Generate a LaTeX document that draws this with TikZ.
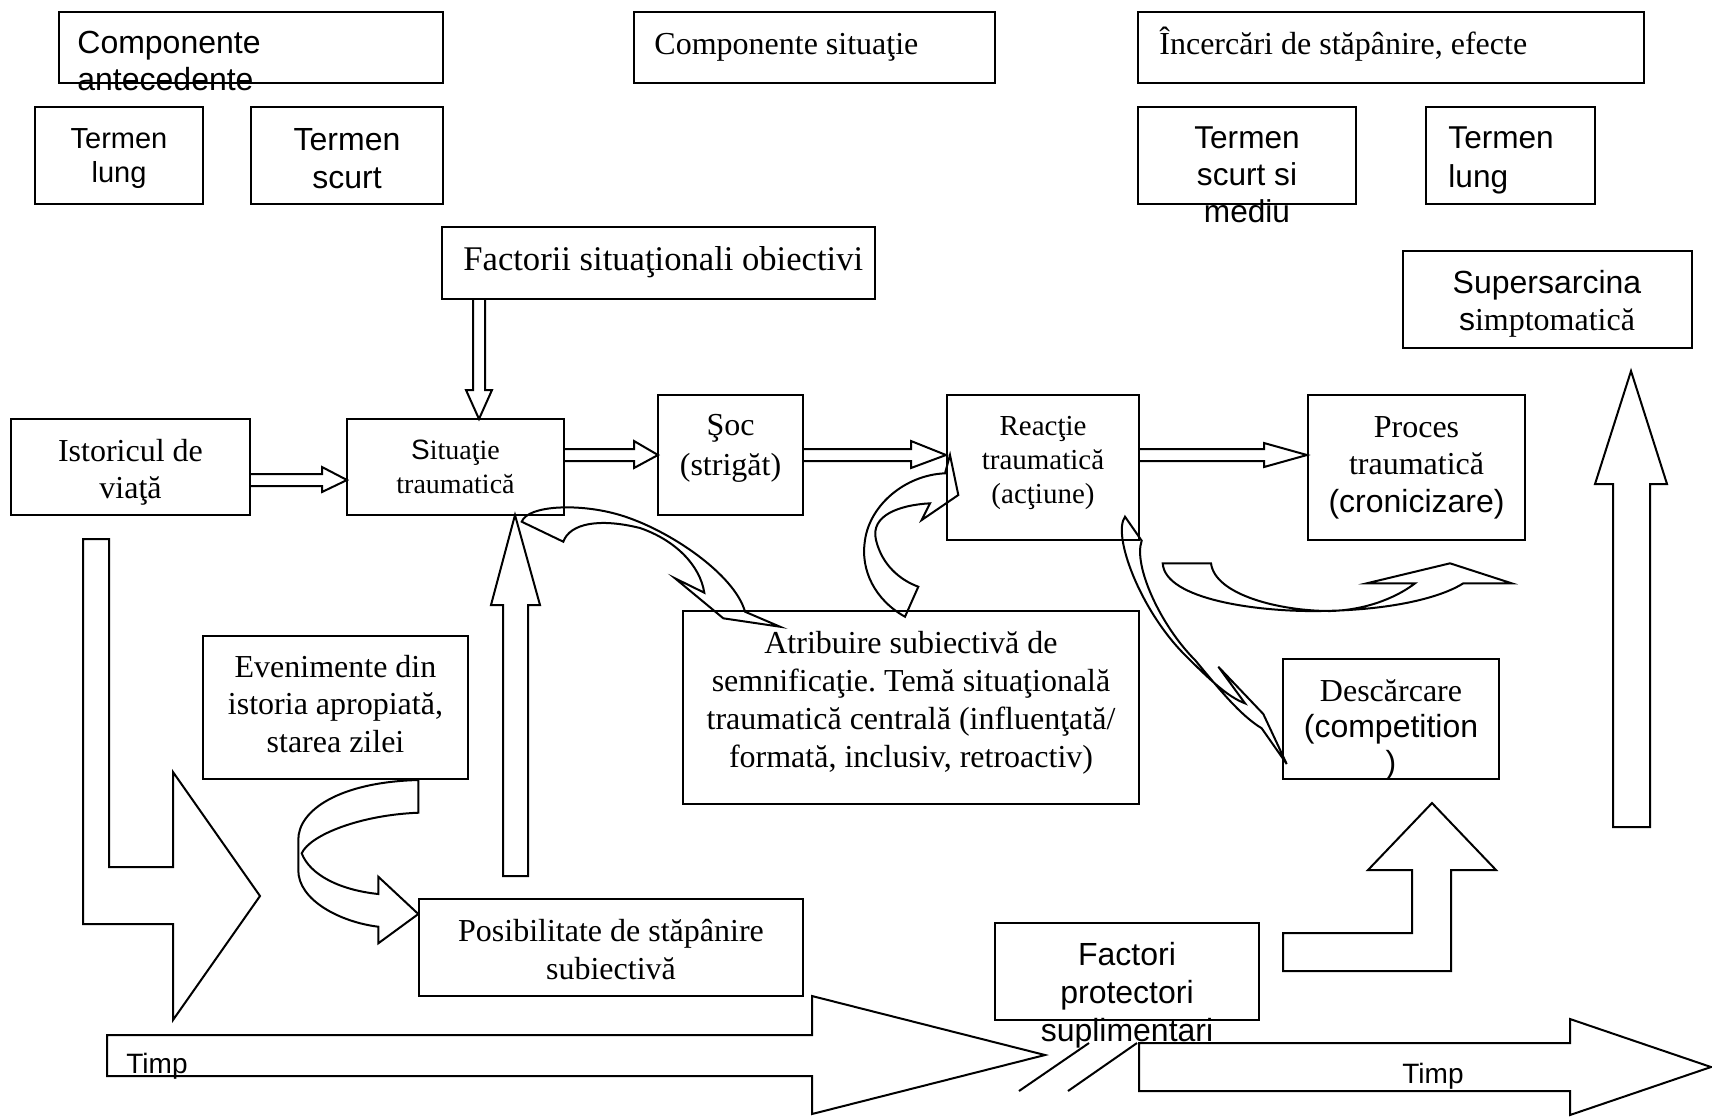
\documentclass[tikz,border=0pt]{standalone}
\usepackage{fontspec}
\setmainfont{Liberation Serif}
\setsansfont{Liberation Sans}
\usetikzlibrary{fit}
\tikzset{
  box/.style={draw, line width=1pt, inner sep=0pt},
  blk/.style={draw, line width=1pt, line join=miter},
  crv/.style={draw, line width=1pt, line join=miter},
  txt/.style={inner sep=0pt, anchor=base},
  txtl/.style={inner sep=0pt, anchor=base west},
}
\newcommand\mlines[2][c]{\begin{tabular}[t]{@{}#1@{}}#2\end{tabular}}
\newcommand\setfs[2]{\fontsize{#1}{#2}\selectfont}
\newcommand\bx[5]{\node[box, fit={(#2,#3) (#4,#5)}] (#1) {};}
\frenchspacing
\begin{document}
\begin{tikzpicture}[x=0.5pt,y=-0.5pt]
\useasboundingbox (0,0) rectangle (1712,1116);
% boxes
\bx{ant}{59}{12}{443}{83}
\bx{sit}{634}{12}{995}{83}
\bx{inc}{1138}{12}{1644}{83}
\bx{tl1}{35}{107}{203}{204}
\bx{ts1}{251}{107}{443}{204}
\bx{ts2}{1138}{107}{1356}{204}
\bx{tl2}{1426}{107}{1595}{204}
\bx{fso}{442}{227}{875}{299}
\bx{sup}{1403}{251}{1692}{348}
\bx{ist}{11}{419}{250}{515}
\bx{stt}{347}{419}{564}{515}
\bx{soc}{658}{395}{803}{515}
\bx{rea}{947}{395}{1139}{540}
\bx{pro}{1308}{395}{1525}{540}
\bx{atr}{683}{611}{1139}{804}
\bx{eve}{203}{636}{468}{779}
\bx{des}{1283}{659}{1499}{779}
\bx{pos}{419}{899}{803}{996}
\bx{fpr}{995}{923}{1259}{1020}
% texts
\node[txtl] (x_ant) at (77,53.5) {\sffamily\setfs{16}{18.25}\mlines[l]{Componente\\antecedente}};
\node[txtl] (x_sit) at (654,54) {\setfs{16}{19}Componente situaţie};
\node[txtl] (x_inc) at (1159,54) {\setfs{16}{19}Încercări de stăpânire, efecte};
\node[txt] (x_tl1) at (119,148) {\sffamily\setfs{14.5}{17}\mlines{Termen\\lung}};
\node[txt] (x_ts1) at (347,150) {\sffamily\setfs{16}{19}\mlines{Termen\\scurt}};
\node[txt] (x_ts2) at (1247,148) {\sffamily\setfs{15.8}{18.5}\mlines{Termen\\scurt si\\mediu}};
\node[txtl] (x_tl2) at (1448,148) {\sffamily\setfs{15.8}{19.5}\mlines[l]{Termen\\lung}};
\node[txtl] (x_fso) at (463,270) {\setfs{17.3}{19}Factorii situaţionali obiectivi};
\node[txt] (x_sup) at (1547,293) {\setfs{16}{18.5}\mlines{\sffamily Supersarcina\\{\sffamily s}imptomatică}};
\node[txt] (x_ist) at (130.5,461) {\setfs{16}{18.5}\mlines{Istoricul de\\viaţă}};
\node[txt] (x_stt) at (455.5,459) {\setfs{14}{17}\mlines{{\sffamily S}ituaţie\\traumatică}};
\node[txt] (x_soc) at (730.5,435) {\setfs{16}{20}\mlines{Şoc\\(strigăt)}};
\node[txt] (x_rea) at (1043,435) {\setfs{14.5}{17}\mlines{Reacţie\\traumatică\\(acţiune)}};
\node[txt] (x_pro) at (1416.5,437) {\setfs{16}{18.8}\mlines{Proces\\traumatică\\\sffamily(cronicizare)}};
\node[txt] (x_atr) at (911,653) {\setfs{16}{19}\mlines{Atribuire subiectivă de\\semnificaţie. Temă situaţională\\traumatică centrală (influenţată/\\formată, inclusiv, retroactiv)}};
\node[txt] (x_eve) at (335.5,677) {\setfs{16}{18.75}\mlines{Evenimente din\\istoria apropiată,\\starea zilei}};
\node[txt] (x_des) at (1391,701) {\setfs{16}{18}\mlines{Descărcare\\\sffamily(competition\\\sffamily)}};
\node[txt] (x_pos) at (611,941) {\setfs{16}{19}\mlines{Posibilitate de stăpânire\\subiectivă}};
\node[txt] (x_fpr) at (1127,965) {\sffamily\setfs{16}{19}\mlines{Factori\\protectori\\suplimentari}};
\node[txtl] (x_t1) at (126,1073) {\sffamily\setfs{14}{17}Timp};
\node[txtl] (x_t2) at (1402,1083) {\sffamily\setfs{14}{17}Timp};
% straight block arrows
\draw[blk] (473,299) -- (473,390) -- (466,390) -- (479,419) -- (492,390) -- (485,390) -- (485,299);
\draw[blk] (250,474) -- (322,474) -- (322,467) -- (347,480) -- (322,492) -- (322,486) -- (250,486);
\draw[blk] (564,449) -- (634,449) -- (634,441) -- (658,455) -- (634,468) -- (634,461) -- (564,461);
\draw[blk] (803,449) -- (911,449) -- (911,441) -- (946,455) -- (911,468) -- (911,461) -- (803,461);
\draw[blk] (1139,449) -- (1264,449) -- (1264,443) -- (1307,455) -- (1264,467) -- (1264,461) -- (1139,461);
\draw[blk] (503,876) -- (503,605) -- (491,605) -- (515,515) -- (540,605) -- (528,605) -- (528,876) -- cycle;
\draw[blk] (83,539) -- (83,924) -- (173,924) -- (173,1020) -- (260,896) -- (173,772) -- (173,867) -- (109,867) -- (109,539) -- cycle;
\draw[blk] (107,1035) -- (812,1035) -- (812,996) -- (1045,1055) -- (812,1114) -- (812,1076) -- (107,1076) -- cycle;
\draw[line width=1pt] (1089,1043) -- (1019,1091);
\draw[line width=1pt] (1137,1043) -- (1068,1091);
\draw[blk] (1139,1043) -- (1570,1043) -- (1570,1019) -- (1711,1067) -- (1570,1115) -- (1570,1091) -- (1139,1091) -- cycle;
\draw[blk] (1283,933) -- (1412,933) -- (1412,870) -- (1368,870) -- (1432,803) -- (1496,870) -- (1451,870) -- (1451,971) -- (1283,971) -- cycle;
\draw[blk] (1613,827) -- (1613,484) -- (1595,484) -- (1631,371) -- (1667,484) -- (1650,484) -- (1650,827) -- cycle;
% curved arrows
\draw[crv] (521.7,521.7) .. controls (528,505) and (580,503) .. (620,515) .. controls (670,530) and (735,575) .. (745,611.7) -- (780,626.7) -- (723.3,618.3) -- (675,578.3) -- (704.3,592.7) .. controls (700,565) and (675,540) .. (640,528) .. controls (600,518) and (570,523) .. (563.3,541.7) -- cycle;
\draw[crv] (905,616.7) .. controls (875,600) and (860,570) .. (865,540) .. controls (870,505) and (905,475) .. (945,473.3) -- (950,455) -- (958.3,495) -- (921.7,520) -- (930,503.3) .. controls (900,505) and (870,515) .. (876,540) .. controls (882,565) and (900,580) .. (918.3,586.7) -- cycle;
\draw[crv] (1125,516.7) .. controls (1112,535) and (1140,610) .. (1185,655) .. controls (1210,680) and (1228,697) .. (1245,703.3) -- (1218.3,666.7) -- (1263.3,714) -- (1286.7,764) -- (1261.7,728.3) .. controls (1240,715) and (1220,690) .. (1195,660) .. controls (1160,625) and (1133,565) .. (1141.7,540.7) -- cycle;
\draw[crv] (1162.7,563.3) .. controls (1165,600) and (1260,612) .. (1320,611) .. controls (1400,610) and (1445,595) .. (1463.3,583.3) -- (1511.7,583.3) -- (1450,563.3) -- (1366.7,583.3) -- (1415,583.3) .. controls (1400,595) and (1370,610) .. (1330,611) .. controls (1280,611) and (1215,595) .. (1211,563.3) -- cycle;
\draw[crv] (418.3,780) .. controls (340,782) and (298,810) .. (298.3,840) -- (298.3,870) .. controls (298,900) and (340,922) .. (378.3,926.7) -- (378.3,943.3) -- (418.3,914) -- (378.3,876.7) -- (378.3,894) .. controls (340,890) and (310,875) .. (301.7,853.3) .. controls (310,835) and (360,815) .. (418.3,812.7) -- cycle;
\end{tikzpicture}
\end{document}
